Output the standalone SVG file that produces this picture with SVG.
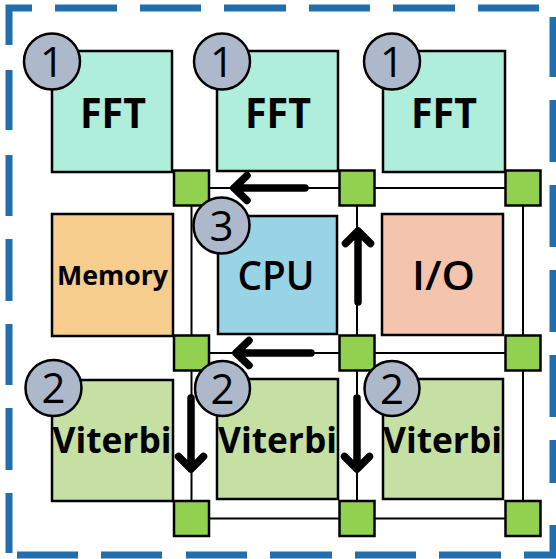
<svg xmlns="http://www.w3.org/2000/svg" width="556" height="559" viewBox="0 0 556 559">
<style>
.border{fill:none;stroke:#226dab;stroke-width:7;stroke-linecap:butt;stroke-linejoin:miter}
.box{stroke:#000;stroke-width:2.5}
.fft{fill:#aeeedb}
.vit{fill:#c6e0a4}
.cpu{fill:#98d4e6}
.io{fill:#f4c4ad}
.mem{fill:#f6cd8c}
.router{fill:#92d050;stroke:#000;stroke-width:2.5}
.badge{fill:#adb9ca;stroke:#000;stroke-width:2.5}
.link{fill:none;stroke:#000;stroke-width:2}
.arrow{fill:none;stroke:#000;stroke-width:7.5;stroke-linecap:round;stroke-linejoin:round}
text{font-family:"Open Sans","Noto Sans","DejaVu Sans",sans-serif;fill:#000;text-anchor:middle}
.lbl{font-weight:bold;font-size:42px}
.lblr{font-weight:600;font-size:40px}
.num{font-size:42px}
</style>
<path class="border" d="M9 45V8H32M55 8H117M140 8H201M224 8H286M309 8H370M393 8H455M478 8H539M553 17V77M553 100V162M553 185V247M553 270V332M553 355V417M553 440V483M553 525V555H524M501 555H439M416 555H355M332 555H270M247 555H186M162 555H101M78 555H17M9 553V493M9 470V408M9 385V324M9 301V239M9 216V155M9 130V70"/>
<g id="connectors">
<path class="link" d="M191.5 188H523M191.5 353H523M191.5 518.5H523M191.5 188V518.5M357 188V518.5M523 188V518.5"/>
</g>
<g id="fft1"><rect class="box fft" x="52" y="51" width="120" height="121"/><text class="lbl" x="113" y="128" textLength="66" lengthAdjust="spacingAndGlyphs">FFT</text></g>
<g id="fft2"><rect class="box fft" x="217" y="51" width="121" height="120"/><text class="lbl" x="278" y="128" textLength="66" lengthAdjust="spacingAndGlyphs">FFT</text></g>
<g id="fft3"><rect class="box fft" x="383" y="51" width="122" height="121"/><text class="lbl" x="444" y="128" textLength="66" lengthAdjust="spacingAndGlyphs">FFT</text></g>
<g id="memory"><rect class="box mem" x="52" y="214" width="121" height="122"/><text x="112.5" y="285" font-weight="bold" font-size="27" textLength="111" lengthAdjust="spacingAndGlyphs">Memory</text></g>
<g id="cpu"><rect class="box cpu" x="218" y="216" width="119" height="118"/><text class="lblr" x="276" y="290" textLength="77" lengthAdjust="spacingAndGlyphs">CPU</text></g>
<g id="io"><rect class="box io" x="382" y="214" width="121" height="121"/><text class="lblr" x="443.5" y="290" textLength="63" lengthAdjust="spacingAndGlyphs">I/O</text></g>
<g id="viterbi1"><rect class="box vit" x="52" y="380" width="121" height="121"/><text x="112" y="453" font-weight="bold" font-size="36" textLength="119" lengthAdjust="spacingAndGlyphs">Viterbi</text></g>
<g id="viterbi2"><rect class="box vit" x="217" y="379" width="121" height="120"/><text x="277.5" y="453" font-weight="bold" font-size="36" textLength="119" lengthAdjust="spacingAndGlyphs">Viterbi</text></g>
<g id="viterbi3"><rect class="box vit" x="383" y="379" width="120" height="120"/><text x="442.5" y="453" font-weight="bold" font-size="36" textLength="119" lengthAdjust="spacingAndGlyphs">Viterbi</text></g>
<g id="routers">
<rect class="router" x="174" y="170.5" width="35" height="35"/>
<rect class="router" x="339.5" y="170.5" width="35" height="35"/>
<rect class="router" x="505.5" y="170.5" width="35" height="35"/>
<rect class="router" x="174" y="335.5" width="35" height="35"/>
<rect class="router" x="339.5" y="335.5" width="35" height="35"/>
<rect class="router" x="505.5" y="335.5" width="35" height="35"/>
<rect class="router" x="174" y="501" width="35" height="35"/>
<rect class="router" x="339.5" y="501" width="35" height="35"/>
<rect class="router" x="505.5" y="501" width="35" height="35"/>
</g>
<g id="arrows">
<path class="arrow" d="M305 188H234M247 175.5L234 188L247 200.5"/>
<path class="arrow" d="M311 353H236M249 340.5L236 353L249 365.5"/>
<path class="arrow" d="M358 302V231M345.5 243.5L358 231L370.5 243.5"/>
<path class="arrow" d="M191 398V469M178.5 456.5L191 469L203.5 456.5"/>
<path class="arrow" d="M357 398V469M344.5 456.5L357 469L369.5 456.5"/>
</g>
<g id="badge1a"><circle class="badge" cx="52" cy="61.5" r="28"/><text class="num" x="52" y="76.5">1</text></g>
<g id="badge1b"><circle class="badge" cx="222" cy="61.5" r="28"/><text class="num" x="222" y="76.5">1</text></g>
<g id="badge1c"><circle class="badge" cx="392" cy="61.5" r="28"/><text class="num" x="392" y="76.5">1</text></g>
<g id="badge3"><circle class="badge" cx="221.5" cy="225.5" r="28"/><text class="num" x="221.5" y="240.5">3</text></g>
<g id="badge2a"><circle class="badge" cx="53.5" cy="388" r="28"/><text class="num" x="53.5" y="403">2</text></g>
<g id="badge2b"><circle class="badge" cx="222.5" cy="388.5" r="27.5"/><text class="num" x="222.5" y="403.5">2</text></g>
<g id="badge2c"><circle class="badge" cx="392" cy="388.5" r="27.5"/><text class="num" x="392" y="403.5">2</text></g>
</svg>
